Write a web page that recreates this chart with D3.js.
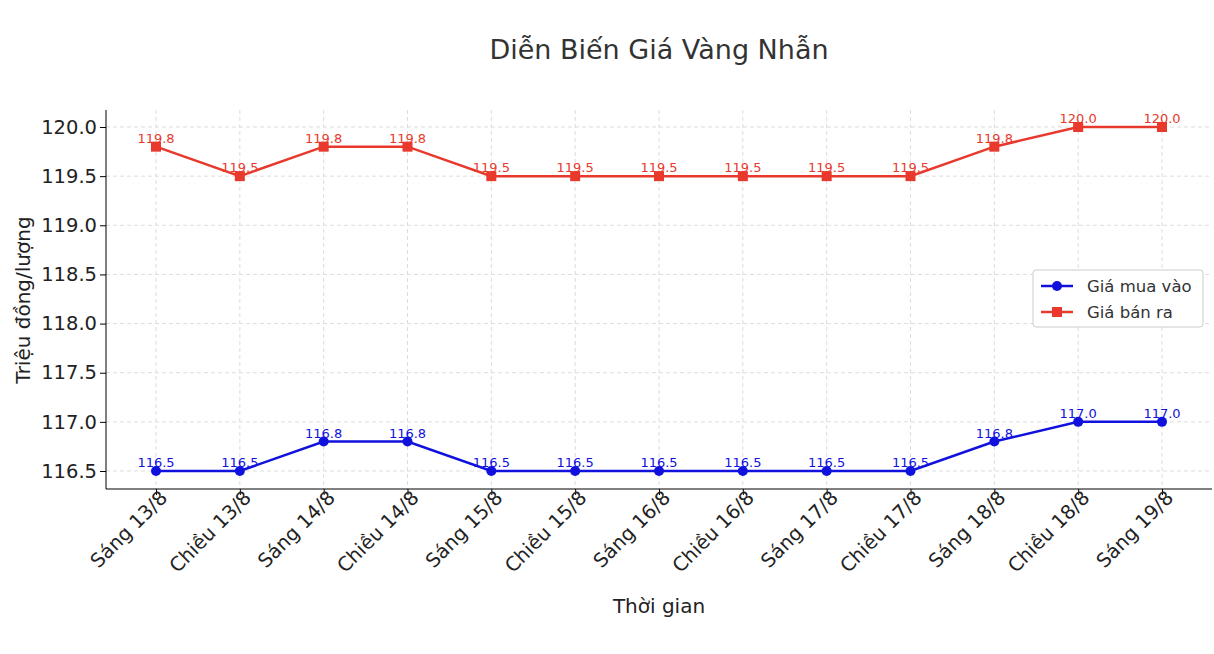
<!DOCTYPE html>
<html><head><meta charset="utf-8">
<script src="https://cdn.jsdelivr.net/npm/d3@7"></script>
<style>body{margin:0;background:#fff;font-family:"DejaVu Sans",sans-serif}</style>
</head><body>
<svg id="c" width="1214" height="654"></svg>
<script>
const categories = ["Sáng 13/8","Chiều 13/8","Sáng 14/8","Chiều 14/8","Sáng 15/8","Chiều 15/8","Sáng 16/8","Chiều 16/8","Sáng 17/8","Chiều 17/8","Sáng 18/8","Chiều 18/8","Sáng 19/8"];
const buyPrices = [116.5,116.5,116.8,116.8,116.5,116.5,116.5,116.5,116.5,116.5,116.8,117.0,117.0];
const sellPrices = [119.8,119.5,119.8,119.8,119.5,119.5,119.5,119.5,119.5,119.5,119.8,120.0,120.0];
const yTicks = [116.5,117.0,117.5,118.0,118.5,119.0,119.5,120.0];

const svg = d3.select("#c");
const L = 106, R = 1212, T = 110, B = 489;
const x = d3.scalePoint().domain(categories).range([156, 1162]);
const y = d3.scaleLinear().domain([116.317, 120.173]).range([B, T]);

// grid
svg.append("g").selectAll("line").data(yTicks).join("line")
  .attr("x1", L).attr("x2", R).attr("y1", d => y(d)).attr("y2", d => y(d))
  .attr("stroke", "#ddd").attr("stroke-dasharray", "4,3");
svg.append("g").selectAll("line").data(categories).join("line")
  .attr("x1", d => x(d)).attr("x2", d => x(d)).attr("y1", T).attr("y2", B)
  .attr("stroke", "#ddd").attr("stroke-dasharray", "4,3");

// axes
const ya = svg.append("g").attr("transform", `translate(${L},0)`)
  .call(d3.axisLeft(y).tickValues(yTicks).tickFormat(d3.format(".1f")).tickSizeOuter(0));
ya.select(".domain").attr("d", `M0,${T}V${B}`);
ya.selectAll("text").attr("font-size", 19.5).attr("fill", "#222").attr("font-family", "DejaVu Sans");
const xa = svg.append("g").attr("transform", `translate(0,${B})`)
  .call(d3.axisBottom(x).tickSizeOuter(0));
xa.select(".domain").attr("d", `M${L},0H${R}`);
xa.selectAll("text").attr("font-size", 19.5).attr("fill", "#222").attr("font-family", "DejaVu Sans")
  .attr("text-anchor", "end").attr("y", 0).attr("dy", 0)
  .attr("transform", "translate(12,10) rotate(-45)");

// series
const series = [
  {name: "Giá mua vào", vals: buyPrices, color: "#1111dd", shape: "circle"},
  {name: "Giá bán ra", vals: sellPrices, color: "#e8392c", shape: "square"}
];
const line = d3.line().x((d, i) => x(categories[i])).y(d => y(d));
series.forEach(s => {
  svg.append("path").attr("d", line(s.vals)).attr("fill", "none")
    .attr("stroke", s.color).attr("stroke-width", 2.5);
  const g = svg.append("g");
  s.vals.forEach((v, i) => {
    const cx = x(categories[i]), cy = y(v);
    if (s.shape === "circle") g.append("circle").attr("cx", cx).attr("cy", cy).attr("r", 5).attr("fill", s.color);
    else g.append("rect").attr("x", cx - 5).attr("y", cy - 5).attr("width", 10).attr("height", 10).attr("fill", s.color);
    g.append("text").attr("x", cx).attr("y", cy - 4).attr("text-anchor", "middle")
      .attr("font-size", 13).attr("fill", s.color).text(v.toFixed(1));
  });
});

// legend
const lg = svg.append("g").attr("transform", "translate(1033,270)");
lg.append("rect").attr("width", 170).attr("height", 57).attr("rx", 3)
  .attr("fill", "#fff").attr("stroke", "#ccc");
series.forEach((s, i) => {
  const yy = 16 + i * 26;
  lg.append("line").attr("x1", 8).attr("x2", 40).attr("y1", yy).attr("y2", yy)
    .attr("stroke", s.color).attr("stroke-width", 2.5);
  if (s.shape === "circle") lg.append("circle").attr("cx", 24).attr("cy", yy).attr("r", 5).attr("fill", s.color);
  else lg.append("rect").attr("x", 19).attr("y", yy - 5).attr("width", 10).attr("height", 10).attr("fill", s.color);
  lg.append("text").attr("x", 54).attr("y", yy + 6).attr("font-size", 16.5).attr("fill", "#333").text(s.name);
});

// titles
svg.append("text").attr("x", 659).attr("y", 59).attr("text-anchor", "middle")
  .attr("font-size", 27).attr("fill", "#333").text("Diễn Biến Giá Vàng Nhẫn");
svg.append("text").attr("x", 659).attr("y", 613).attr("text-anchor", "middle")
  .attr("font-size", 20).attr("fill", "#222").text("Thời gian");
svg.append("text").attr("transform", "translate(30,300) rotate(-90)").attr("text-anchor", "middle")
  .attr("font-size", 20).attr("fill", "#222").text("Triệu đồng/lượng");
</script>
</body></html>
